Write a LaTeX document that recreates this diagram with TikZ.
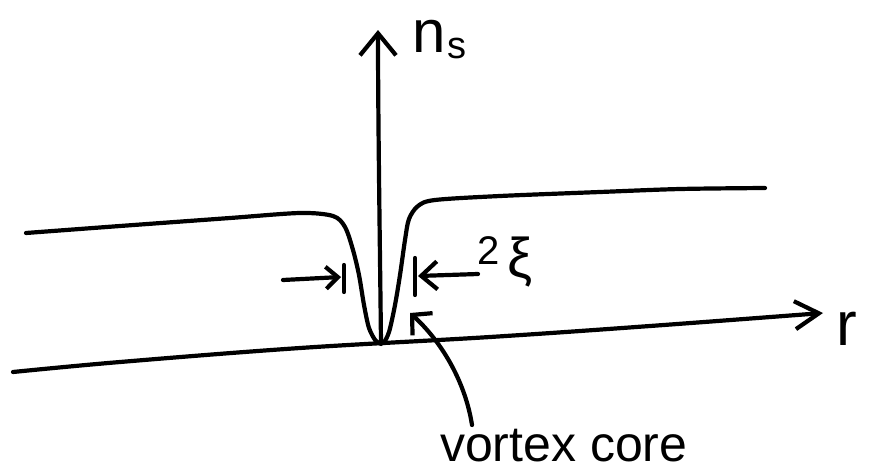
\documentclass[tikz,border=0pt]{standalone}
\usepackage{fontspec}
\setmainfont{Liberation Sans}
\usetikzlibrary{arrows.meta}
\tikzset{
  pen/.style={line width=4.2pt, line cap=round, line join=round, black},
  lbl/.style={inner sep=0pt, outer sep=0pt},
}
\begin{document}
\begin{tikzpicture}[x=1pt,y=-1pt]
\useasboundingbox (0,0) rectangle (869,471);
% named points
\coordinate (rstart) at (13,372);
\coordinate (rtip) at (823,313);
\coordinate (nsfoot) at (381,344);
\coordinate (nstip) at (378,30);
% r axis
\draw[pen, -{Straight Barb[length=24pt,width=28pt,line width=4.2pt]}]
  plot[smooth, tension=0.6] coordinates {(rstart) (120,362) (300,348) (490,337) (650,326) (rtip)};
% n_s axis
\draw[pen, -{Straight Barb[length=22pt,width=36pt,line width=4.2pt]}]
  (nsfoot) .. controls (380,250) and (378,120) .. (nstip);
% density curve
\draw[pen] plot[smooth, tension=0.5] coordinates {
  (26,233) (120,226) (230,218) (300,213) (333,216) (345,227) (353,250)
  (359,275) (364,305) (369,328) (376,341) (383,343)
  (389,332) (395,305) (400,275) (405,240) (409,219) (418,206) (435,200)
  (500,196) (600,192) (680,189) (765,188)};
% dimension arrows
\coordinate (lbart) at (344,265); \coordinate (lbarb) at (344,292);
\coordinate (rbart) at (415,258); \coordinate (rbarb) at (415,295);
\draw[pen] (lbart) -- (lbarb);
\draw[pen] (rbart) -- (rbarb);
\coordinate (lstart) at (283,280);
\coordinate (ltip) at (341,277);
\coordinate (rstartd) at (478,274);
\coordinate (rtipd) at (418,276);
\draw[pen, -{Straight Barb[length=12pt,width=22pt,line width=4.2pt]}] (lstart) -- (ltip);
\draw[pen, -{Straight Barb[length=16pt,width=28pt,line width=4.2pt]}] (rstartd) -- (rtipd);
% labels
\node[lbl, anchor=center] (two) at (489,251) {\fontsize{40}{40}\selectfont 2};
\node[lbl, anchor=center] (xi) at (520,262) {\fontsize{56}{56}\selectfont ξ};
\node[lbl, anchor=base west] (n) at (412,52) {\fontsize{60}{60}\selectfont n};
\node[lbl, anchor=base west] (s) at (447,58) {\fontsize{38}{38}\selectfont s};
\node[lbl, anchor=base west] (r) at (836,345) {\fontsize{62}{62}\selectfont r};
\node[lbl, anchor=base west] (vc) at (440,461) {\fontsize{50}{50}\selectfont vortex core};
% vortex core pointer
\coordinate (vtip) at (410,313);
\coordinate (vend) at (472,425);
\draw[pen, {Straight Barb[length=14pt,width=30pt,line width=4.2pt]}-]
  (vtip) .. controls (440,340) and (465,380) .. (vend);
\end{tikzpicture}
\end{document}
